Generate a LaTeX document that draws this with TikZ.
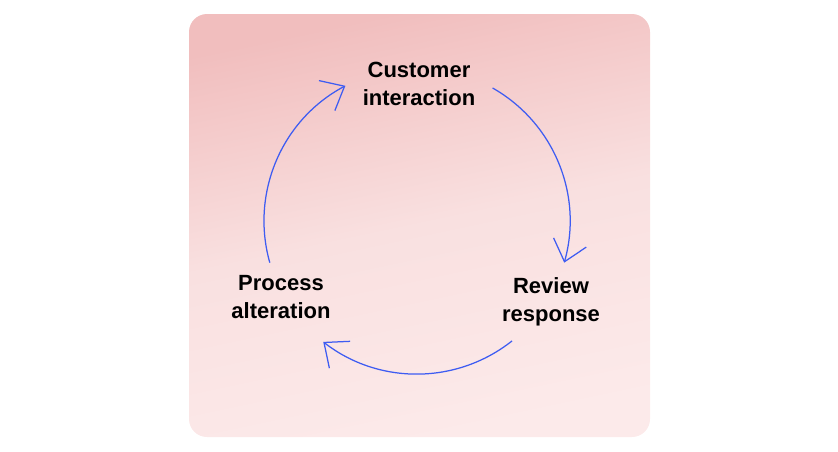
\documentclass[tikz,border=0pt]{standalone}
\usepackage{fontspec}
\setmainfont{Liberation Sans}
\usetikzlibrary{arrows.meta}
\definecolor{cycblue}{RGB}{62,92,242}
\definecolor{bgtop}{RGB}{241,190,190}
\definecolor{bgmid}{RGB}{249,224,224}
\definecolor{bgbot}{RGB}{252,234,234}

\begin{document}
\begin{tikzpicture}[x=1pt, y=-1pt,
    stage/.style={align=center, inner sep=0pt, font=\fontsize{22}{28}\selectfont\bfseries},
    cycarrow/.style={draw=cycblue, line width=1.25pt, -{Straight Barb[length=20pt, width=34pt, line width=1.25pt]}}]
  \useasboundingbox (0,0) rectangle (838,451);
  \shade[rounded corners=18pt, top color=bgtop, bottom color=bgbot, middle color=bgmid, shading angle=12] (189,14) rectangle (650,437);

  \node[stage] (customer) at (419,83.5) {Customer\\interaction};
  \node[stage] (review) at (551,301.5) {Review\\response};
  \node[stage] (process) at (281,297.5) {Process\\alteration};

  % cycle arcs
  \coordinate (mid) at (417,221);
  \path (mid) ++(195.8:153pt) coordinate (pstart);
  \path (mid) ++(60.4:153pt) coordinate (cstart);
  \path (mid) ++(-51.6:153pt) coordinate (rstart);
  \draw[cycarrow] (pstart) arc[start angle=195.8, end angle=117.9, radius=153pt];
  \draw[cycarrow] (cstart) arc[start angle=60.4, end angle=-15.8, radius=153pt];
  \draw[cycarrow] (rstart) arc[start angle=-51.6, end angle=-127.8, radius=153pt];
\end{tikzpicture}
\end{document}
